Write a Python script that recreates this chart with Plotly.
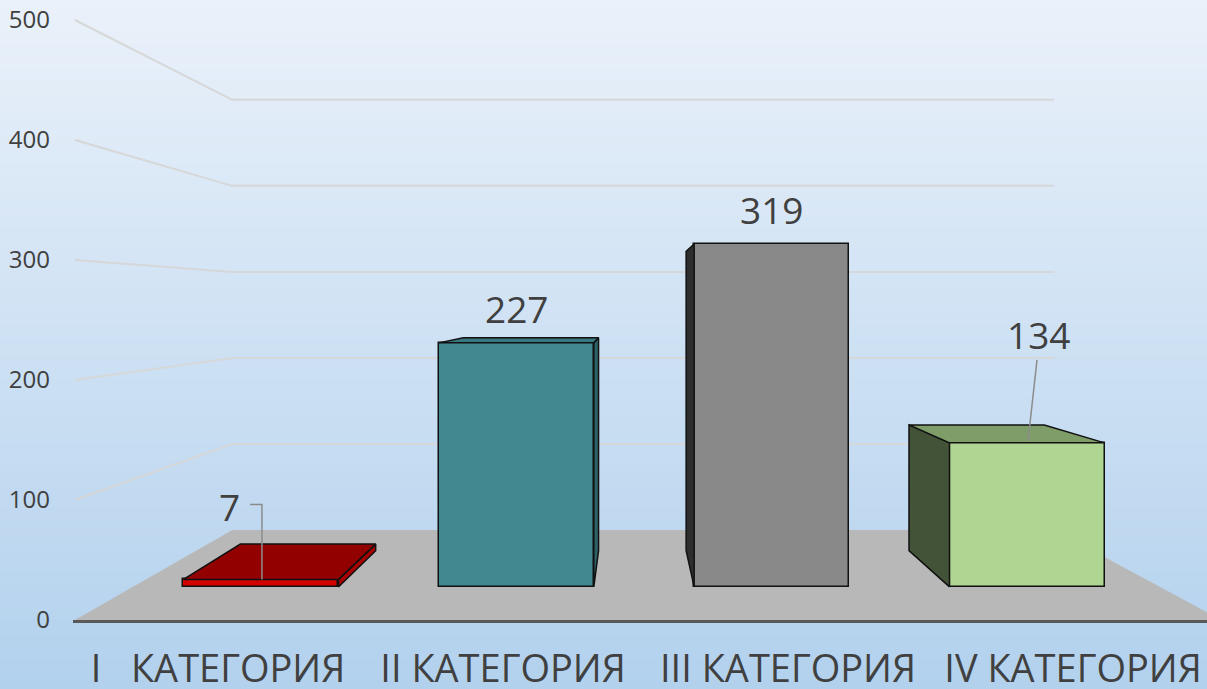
import plotly.graph_objects as go

# ---------------- data ----------------
categories = ["I   КАТЕГОРИЯ", "II КАТЕГОРИЯ", "III КАТЕГОРИЯ", "IV КАТЕГОРИЯ"]
values = [7, 227, 319, 134]
y_ticks = [0, 100, 200, 300, 400, 500]

# ---------------- styles ----------------
front_colors = ["#d40000", "#418890", "#898989", "#aed591"]
top_colors = ["#920000", "#37777e", "#7a7a7a", "#7f9d69"]
side_colors = ["#a80000", "#2d6268", "#2e2e2e", "#435338"]
# label offsets in pixels (dx, dy up) relative to the bar's front-top centre
label_offsets = [(-31, 73), (0, 34), (0, 34), (11, 108)]
leader_paths = [[(-11, 75), (1, 75), (1, 0)], None, None, [(10, 83), (1, 2)]]

W, H = 1207, 689
ML, MB = 73, 69
PLOT_H = H - MB
PLOT_W = W - ML
PX_PER_X = 285.0
X0_PX = 218.0
PX_PER_Y = 1.2
x_range = [(ML - X0_PX) / PX_PER_X, (W - X0_PX) / PX_PER_X]
y_range = [0, PLOT_H / PX_PER_Y]

# pseudo-3D projection (one-point perspective)
VX = (631 - X0_PX) / PX_PER_X
VY = 265.0
S_FRONT, S_BACK, S_WALL = 0.896, 0.782, 0.717
HALF_W = 0.3035
XL, XR = -0.502, 3.52


def P(X, Y, s):
    return (VX + (X - VX) * s, VY + (Y - VY) * s)


def path_of(points, close=True):
    d = "M " + " L ".join(f"{x:.5f},{y:.5f}" for x, y in points)
    return d + (" Z" if close else "")


fig = go.Figure()
shapes = []

# background gradient
N = 140
top_rgb = (234, 241, 250)
bot_rgb = (178, 209, 237)
for i in range(N):
    p0 = H * i / N
    p1 = H * (i + 1) / N + 0.6
    t = (i + 0.5) / N
    c = tuple(int(round(a + (b - a) * t)) for a, b in zip(top_rgb, bot_rgb))
    shapes.append(dict(type="rect", xref="paper", yref="paper",
                       x0=-ML / PLOT_W - 0.01, x1=1.01,
                       y0=(PLOT_H - p1) / PLOT_H, y1=(PLOT_H - p0) / PLOT_H,
                       fillcolor=f"rgb{c}", line=dict(width=0), layer="below"))

# floor
floor = [P(XL, 0, 1.0), P(XR, 0, 1.0), P(XR, 0, S_WALL), P(XL, 0, S_WALL)]
shapes.append(dict(type="path", xref="x", yref="y", path=path_of(floor),
                   fillcolor="#b8b8b8", line=dict(width=0), layer="below"))

# wall gridlines
for v in y_ticks[1:]:
    pts = [P(XL, v, 1.0), P(XL, v, S_WALL), P(XR, v, S_WALL)]
    shapes.append(dict(type="path", xref="x", yref="y", path=path_of(pts, close=False),
                       line=dict(color="rgba(214,214,214,0.95)", width=2), layer="below"))

# front faces as bars
bx, bw, bbase, bh = [], [], [], []
for i, v in enumerate(values):
    cx, base = P(i, 0, S_FRONT)
    _, top = P(i, v, S_FRONT)
    bx.append(cx)
    bw.append(2 * HALF_W * S_FRONT)
    bbase.append(base)
    bh.append(top - base)
fig.add_trace(go.Bar(x=bx, y=bh, base=bbase, width=bw,
                     marker=dict(color=front_colors, line=dict(color="#111111", width=1.5)),
                     hoverinfo="skip", showlegend=False))

# side / top faces
for i, v in enumerate(values):
    l, r = i - HALF_W, i + HALF_W
    faces = []
    if l > VX:
        faces.append(([P(l, 0, S_FRONT), P(l, v, S_FRONT), P(l, v, S_BACK), P(l, 0, S_BACK)], side_colors[i]))
    if r < VX:
        faces.append(([P(r, 0, S_FRONT), P(r, v, S_FRONT), P(r, v, S_BACK), P(r, 0, S_BACK)], side_colors[i]))
    if v < VY:
        faces.append(([P(l, v, S_FRONT), P(r, v, S_FRONT), P(r, v, S_BACK), P(l, v, S_BACK)], top_colors[i]))
    for pts, col in faces:
        xs = [p[0] for p in pts] + [pts[0][0]]
        ys = [p[1] for p in pts] + [pts[0][1]]
        fig.add_trace(go.Scatter(x=xs, y=ys, mode="lines", fill="toself", fillcolor=col,
                                 line=dict(color="#111111", width=1.5),
                                 hoverinfo="skip", showlegend=False))

# data labels and leader lines
annotations = []
for i, v in enumerate(values):
    cx, top = P(i, v, S_FRONT)
    dx, dy = label_offsets[i]
    annotations.append(dict(x=cx, y=top, xref="x", yref="y", text=str(v), showarrow=False,
                            xshift=dx, yshift=dy, xanchor="center", yanchor="middle",
                            font=dict(family="Open Sans", size=37, color="#404040")))
    if leader_paths[i]:
        xs = [cx + px / PX_PER_X for px, py in leader_paths[i]]
        ys = [top + py / PX_PER_Y for px, py in leader_paths[i]]
        fig.add_trace(go.Scatter(x=xs, y=ys, mode="lines",
                                 line=dict(color="#8c8c8c", width=1.5),
                                 hoverinfo="skip", showlegend=False))

fig.update_layout(
    width=W, height=H,
    margin=dict(l=ML, r=0, t=0, b=MB, pad=0, autoexpand=False),
    paper_bgcolor="rgb(206,224,243)",
    plot_bgcolor="rgba(0,0,0,0)",
    shapes=shapes,
    annotations=annotations,
    showlegend=False,
    bargap=0,
    xaxis=dict(range=x_range, tickmode="array", tickvals=list(range(len(categories))),
               ticktext=categories, showgrid=False, zeroline=False,
               showline=True, linecolor="#595959", linewidth=3, ticks="",
               ticklabelstandoff=13, automargin=False, tickangle=0,
               ticklabeloverflow="allow",
               tickfont=dict(family="Open Sans", size=38, color="#404040"),
               fixedrange=True),
    yaxis=dict(range=y_range, tickmode="array", tickvals=y_ticks,
               showgrid=False, zeroline=False, showline=False, ticks="",
               ticklabelstandoff=22, automargin=False,
               tickfont=dict(family="Open Sans", size=24, color="#404040"),
               fixedrange=True),
)

fig.write_html("out.html", config={"displayModeBar": False},
               post_script="document.body.style.margin='0';document.body.style.overflow='hidden';")
